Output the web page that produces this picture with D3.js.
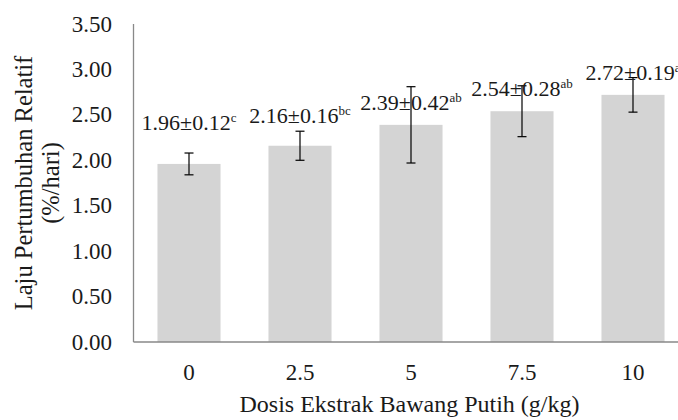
<!DOCTYPE html>
<html>
<head>
<meta charset="utf-8">
<script src="https://cdn.jsdelivr.net/npm/d3@7"></script>
<style>
  body { margin: 0; background: #fff; }
</style>
</head>
<body>
<div id="chart"></div>
<script>
  // data
  const doses = ["0", "2.5", "5", "7.5", "10"];
  const means = [1.96, 2.16, 2.39, 2.54, 2.72];
  const errors = [0.12, 0.16, 0.42, 0.28, 0.19];
  const letters = ["c", "bc", "ab", "ab", "a"];
  const yTicks = [0, 0.5, 1, 1.5, 2, 2.5, 3, 3.5];

  // label lift above bar top (px), hand-placed in the original
  const labelLift = [34, 23, 15, 15, 15];

  const width = 678, height = 420;
  const plotLeft = 133.5, plotTop = 24, plotBottom = 342;
  const serif = "'Liberation Serif', 'Times New Roman', Times, serif";

  const svg = d3.select("#chart").append("svg")
    .attr("width", width)
    .attr("height", height)
    .attr("font-family", serif)
    .style("font-family", serif);

  const x = d3.scaleBand()
    .domain(doses)
    .range([plotLeft, plotLeft + 555])
    .paddingInner(0.432)
    .paddingOuter(0.216);

  const y = d3.scaleLinear()
    .domain([0, 3.5])
    .range([plotBottom, plotTop]);

  // bars
  svg.selectAll("rect.bar")
    .data(doses)
    .enter().append("rect")
    .attr("class", "bar")
    .attr("x", d => x(d))
    .attr("y", (d, i) => y(means[i]))
    .attr("width", x.bandwidth())
    .attr("height", (d, i) => y(0) - y(means[i]))
    .style("fill", "#d4d4d4");

  // axes lines
  svg.append("line")
    .attr("x1", plotLeft).attr("x2", plotLeft)
    .attr("y1", y(3.5)).attr("y2", y(0))
    .style("stroke", "#898989").style("stroke-width", 1.3);
  svg.append("line")
    .attr("x1", plotLeft).attr("x2", width)
    .attr("y1", y(0)).attr("y2", y(0))
    .style("stroke", "#898989").style("stroke-width", 1.3);

  // y tick labels
  svg.selectAll("text.ytick")
    .data(yTicks)
    .enter().append("text")
    .attr("class", "ytick")
    .attr("x", 112)
    .attr("y", d => y(d))
    .attr("dy", "0.33em")
    .attr("text-anchor", "end")
    .style("font-size", "23px")
    .style("fill", "#1a1a1a")
    .text(d3.format(".2f"));

  // x tick labels
  svg.selectAll("text.xtick")
    .data(doses)
    .enter().append("text")
    .attr("class", "xtick")
    .attr("x", d => x(d) + x.bandwidth() / 2)
    .attr("y", 379.5)
    .attr("text-anchor", "middle")
    .style("font-size", "23px")
    .style("fill", "#1a1a1a")
    .text(d => d);

  // error bars
  const err = svg.selectAll("g.err")
    .data(doses)
    .enter().append("g")
    .attr("class", "err")
    .attr("transform", d => "translate(" + (x(d) + x.bandwidth() / 2) + ",0)");
  err.append("line")
    .attr("y1", (d, i) => y(means[i] + errors[i]))
    .attr("y2", (d, i) => y(means[i] - errors[i]));
  err.append("line")
    .attr("x1", -4.5).attr("x2", 4.5)
    .attr("y1", (d, i) => y(means[i] + errors[i]))
    .attr("y2", (d, i) => y(means[i] + errors[i]));
  err.append("line")
    .attr("x1", -4.5).attr("x2", 4.5)
    .attr("y1", (d, i) => y(means[i] - errors[i]))
    .attr("y2", (d, i) => y(means[i] - errors[i]));
  err.selectAll("line").style("stroke", "#000").style("stroke-width", 1.2);

  // value labels with superscript letters
  const lbl = svg.selectAll("text.lbl")
    .data(doses)
    .enter().append("text")
    .attr("class", "lbl")
    .attr("x", d => x(d) + x.bandwidth() / 2)
    .attr("y", (d, i) => y(means[i]) - labelLift[i])
    .attr("text-anchor", "middle")
    .style("font-size", "22px")
    .style("fill", "#1a1a1a");
  lbl.append("tspan")
    .text((d, i) => means[i].toFixed(2) + "±" + errors[i].toFixed(2));
  lbl.append("tspan")
    .attr("dy", -8)
    .style("font-size", "13px")
    .text((d, i) => letters[i]);

  // axis titles
  svg.append("text")
    .attr("x", 409.5)
    .attr("y", 412)
    .attr("text-anchor", "middle")
    .style("font-size", "24px")
    .style("fill", "#1a1a1a")
    .text("Dosis Ekstrak Bawang Putih (g/kg)");

  const yt = svg.append("text")
    .attr("transform", "translate(0," + ((plotTop + plotBottom) / 2) + ") rotate(-90)")
    .attr("text-anchor", "middle")
    .style("font-size", "24.5px")
    .style("fill", "#1a1a1a");
  yt.append("tspan").attr("x", 0).attr("y", 32).text("Laju Pertumbuhan Relatif");
  yt.append("tspan").attr("x", 0).attr("y", 59).text("(%/hari)");
</script>
</body>
</html>
